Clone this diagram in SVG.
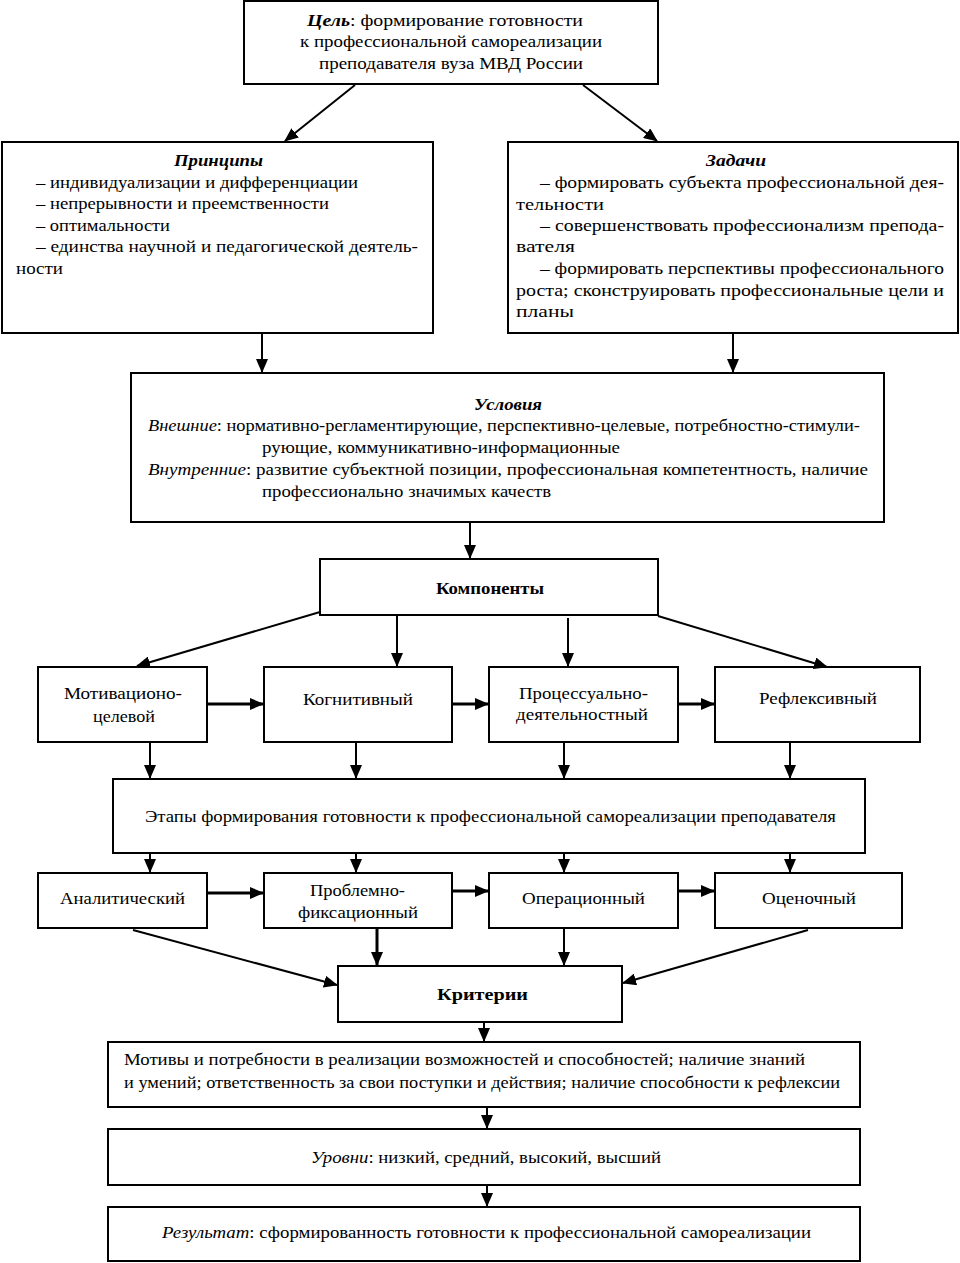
<svg xmlns="http://www.w3.org/2000/svg" width="960" height="1263" viewBox="0 0 960 1263">
<style>
rect.b{fill:#fff;stroke:#000;stroke-width:2}
text{font-family:"Liberation Serif","Times New Roman",serif;font-size:16px;fill:#000}
.bi{font-weight:bold;font-style:italic}
.i{font-style:italic}
.bd{font-weight:bold}
.c line{stroke:#000;stroke-width:2;marker-end:url(#ah)}
.c line.t{stroke-width:3}
</style>
<defs>
<marker id="ah" markerUnits="userSpaceOnUse" markerWidth="14" markerHeight="12" viewBox="0 0 14 12" refX="13" refY="6" orient="auto">
<path d="M0,0 L14,6 L0,12 z" fill="#000"/>
</marker>
</defs>
<rect width="960" height="1263" fill="#fff"/>

<g id="goal"><rect class="b" x="244" y="1" width="414" height="83"/>
<text x="307" y="26" textLength="276" lengthAdjust="spacingAndGlyphs"><tspan class="bi">Цель</tspan>: формирование готовности</text>
<text x="300" y="47" textLength="302" lengthAdjust="spacingAndGlyphs">к профессиональной самореализации</text>
<text x="319" y="69" textLength="264" lengthAdjust="spacingAndGlyphs">преподавателя вуза МВД России</text></g>

<g id="principles"><rect class="b" x="2" y="142" width="431" height="191"/>
<text class="bi" x="174" y="166" textLength="89" lengthAdjust="spacingAndGlyphs">Принципы</text>
<text x="36" y="188" textLength="322" lengthAdjust="spacingAndGlyphs">– индивидуализации и дифференциации</text>
<text x="36" y="209" textLength="293" lengthAdjust="spacingAndGlyphs">– непрерывности и преемственности</text>
<text x="36" y="231" textLength="134" lengthAdjust="spacingAndGlyphs">– оптимальности</text>
<text x="36" y="252" textLength="382" lengthAdjust="spacingAndGlyphs">– единства научной и педагогической деятель-</text>
<text x="16" y="274" textLength="47" lengthAdjust="spacingAndGlyphs">ности</text></g>

<g id="tasks"><rect class="b" x="508" y="142" width="450" height="191"/>
<text class="bi" x="706" y="166" textLength="60" lengthAdjust="spacingAndGlyphs">Задачи</text>
<text x="540" y="188" textLength="404" lengthAdjust="spacingAndGlyphs">– формировать субъекта профессиональной дея-</text>
<text x="516" y="210" textLength="88" lengthAdjust="spacingAndGlyphs">тельности</text>
<text x="540" y="231" textLength="404" lengthAdjust="spacingAndGlyphs">– совершенствовать профессионализм препода-</text>
<text x="516" y="252" textLength="59" lengthAdjust="spacingAndGlyphs">вателя</text>
<text x="540" y="274" textLength="404" lengthAdjust="spacingAndGlyphs">– формировать перспективы профессионального</text>
<text x="516" y="296" textLength="428" lengthAdjust="spacingAndGlyphs">роста; сконструировать профессиональные цели и</text>
<text x="516" y="317" textLength="58" lengthAdjust="spacingAndGlyphs">планы</text></g>

<g id="conditions"><rect class="b" x="131" y="373" width="753" height="149"/>
<text class="bi" x="474" y="410" textLength="68" lengthAdjust="spacingAndGlyphs">Условия</text>
<text x="148" y="431" textLength="712" lengthAdjust="spacingAndGlyphs"><tspan class="i">Внешние</tspan>: нормативно-регламентирующие, перспективно-целевые, потребностно-стимули-</text>
<text x="262" y="453" textLength="358" lengthAdjust="spacingAndGlyphs">рующие, коммуникативно-информационные</text>
<text x="148" y="475" textLength="720" lengthAdjust="spacingAndGlyphs"><tspan class="i">Внутренние</tspan>: развитие субъектной позиции, профессиональная компетентность, наличие</text>
<text x="262" y="497" textLength="289" lengthAdjust="spacingAndGlyphs">профессионально значимых качеств</text></g>

<g id="components"><rect class="b" x="320" y="559" width="338" height="56"/>
<text class="bd" x="436" y="594" textLength="108" lengthAdjust="spacingAndGlyphs">Компоненты</text></g>

<g id="motiv"><rect class="b" x="38" y="667" width="169" height="75"/>
<text x="64" y="699" textLength="118" lengthAdjust="spacingAndGlyphs">Мотивационо-</text>
<text x="93" y="722" textLength="62" lengthAdjust="spacingAndGlyphs">целевой</text></g>
<g id="cogn"><rect class="b" x="264" y="667" width="188" height="75"/>
<text x="303" y="705" textLength="110" lengthAdjust="spacingAndGlyphs">Когнитивный</text></g>
<g id="proc"><rect class="b" x="489" y="667" width="189" height="75"/>
<text x="519" y="699" textLength="129" lengthAdjust="spacingAndGlyphs">Процессуально-</text>
<text x="516" y="720" textLength="132" lengthAdjust="spacingAndGlyphs">деятельностный</text></g>
<g id="refl"><rect class="b" x="715" y="667" width="205" height="75"/>
<text x="759" y="704" textLength="118" lengthAdjust="spacingAndGlyphs">Рефлексивный</text></g>

<g id="stages"><rect class="b" x="113" y="779" width="752" height="74"/>
<text x="145" y="822" textLength="691" lengthAdjust="spacingAndGlyphs">Этапы формирования готовности к профессиональной самореализации преподавателя</text></g>

<g id="anal"><rect class="b" x="38" y="873" width="169" height="55"/>
<text x="60" y="904" textLength="125" lengthAdjust="spacingAndGlyphs">Аналитический</text></g>
<g id="probl"><rect class="b" x="264" y="873" width="188" height="55"/>
<text x="310" y="896" textLength="95" lengthAdjust="spacingAndGlyphs">Проблемно-</text>
<text x="298" y="918" textLength="120" lengthAdjust="spacingAndGlyphs">фиксационный</text></g>
<g id="oper"><rect class="b" x="489" y="873" width="189" height="55"/>
<text x="522" y="904" textLength="123" lengthAdjust="spacingAndGlyphs">Операционный</text></g>
<g id="ocen"><rect class="b" x="715" y="873" width="187" height="55"/>
<text x="762" y="904" textLength="94" lengthAdjust="spacingAndGlyphs">Оценочный</text></g>

<g id="criteria"><rect class="b" x="338" y="966" width="284" height="56"/>
<text class="bd" x="437" y="1000" textLength="91" lengthAdjust="spacingAndGlyphs">Критерии</text></g>

<g id="motives"><rect class="b" x="108" y="1042" width="752" height="65"/>
<text x="124" y="1065" textLength="681" lengthAdjust="spacingAndGlyphs">Мотивы и потребности в реализации возможностей и способностей; наличие знаний</text>
<text x="124" y="1088" textLength="716" lengthAdjust="spacingAndGlyphs">и умений; ответственность за свои поступки и действия; наличие способности к рефлексии</text></g>

<g id="levels"><rect class="b" x="108" y="1129" width="752" height="56"/>
<text x="311" y="1163" textLength="350" lengthAdjust="spacingAndGlyphs"><tspan class="i">Уровни</tspan>: низкий, средний, высокий, высший</text></g>

<g id="result"><rect class="b" x="108" y="1207" width="752" height="54"/>
<text x="162" y="1238" textLength="649" lengthAdjust="spacingAndGlyphs"><tspan class="i">Результат</tspan>: сформированность готовности к профессиональной самореализации</text></g>

<g class="c" id="connectors">
<line x1="355" y1="85" x2="285" y2="141"/>
<line x1="583" y1="85" x2="657" y2="141"/>
<line x1="262" y1="334" x2="262" y2="372"/>
<line x1="733" y1="334" x2="733" y2="372"/>
<line x1="470" y1="523" x2="470" y2="558"/>
<line x1="320" y1="612" x2="137" y2="666"/>
<line x1="397" y1="616" x2="397" y2="666"/>
<line x1="568" y1="618" x2="568" y2="666"/>
<line x1="658" y1="616" x2="827" y2="667"/>
<line class="t" x1="208" y1="704" x2="263" y2="704"/>
<line class="t" x1="453" y1="704" x2="488" y2="704"/>
<line class="t" x1="679" y1="704" x2="714" y2="704"/>
<line x1="150" y1="743" x2="150" y2="778"/>
<line x1="356" y1="743" x2="356" y2="778"/>
<line x1="564" y1="743" x2="564" y2="778"/>
<line x1="790" y1="743" x2="790" y2="778"/>
<line x1="150" y1="854" x2="150" y2="872"/>
<line x1="356" y1="854" x2="356" y2="872"/>
<line x1="564" y1="854" x2="564" y2="872"/>
<line x1="790" y1="854" x2="790" y2="872"/>
<line class="t" x1="208" y1="893" x2="263" y2="893"/>
<line class="t" x1="453" y1="891" x2="488" y2="891"/>
<line class="t" x1="679" y1="891" x2="714" y2="891"/>
<line x1="133" y1="930" x2="337" y2="985"/>
<line class="t" x1="377" y1="929" x2="377" y2="965"/>
<line x1="564" y1="929" x2="564" y2="965"/>
<line x1="808" y1="930" x2="623" y2="983"/>
<line x1="484" y1="1023" x2="484" y2="1041"/>
<line x1="487" y1="1108" x2="487" y2="1128"/>
<line x1="487" y1="1186" x2="487" y2="1206"/>
</g>
</svg>
